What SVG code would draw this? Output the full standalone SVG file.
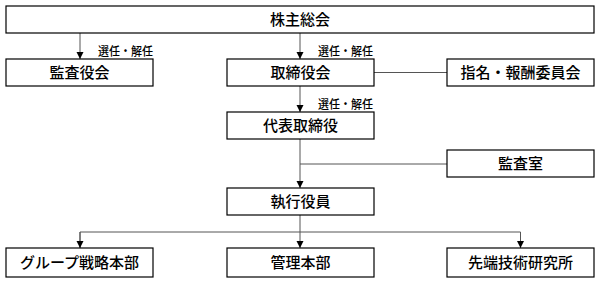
<svg xmlns="http://www.w3.org/2000/svg" width="600" height="283" viewBox="0 0 600 283">
<defs>
<style>
.box{fill:#fff;stroke:#000;stroke-width:1.2}
.t{font-family:"Noto Sans CJK JP","Noto Sans CJK SC",sans-serif;font-size:15px;font-weight:500;fill:#000;text-anchor:middle}
.l{font-family:"Noto Sans CJK JP","Noto Sans CJK SC",sans-serif;font-size:12px;font-weight:500;fill:#000}
.c{fill:none;stroke:#555;stroke-width:1}
</style>
<marker id="ah" markerWidth="8" markerHeight="8" refX="7" refY="4" orient="auto" markerUnits="userSpaceOnUse">
<path d="M0,0.5 L7,4 L0,7.5 Z" fill="#000"/>
</marker>
</defs>
<g id="connectors">
<path class="c" d="M80,33 V59" marker-end="url(#ah)"/>
<path class="c" d="M300,33 V59" marker-end="url(#ah)"/>
<path class="c" d="M374,72.5 H447"/>
<path class="c" d="M300,86 V112" marker-end="url(#ah)"/>
<path class="c" d="M300,139 V188" marker-end="url(#ah)"/>
<path class="c" d="M300,164 H447"/>
<path class="c" d="M300,215 V248" marker-end="url(#ah)"/>
<path class="c" d="M80,248 V232 H520.5 V248" marker-end="url(#ah)"/>
<path class="c" d="M80,232 V248" marker-end="url(#ah)"/>
<text class="l" x="98" y="56" textLength="55" lengthAdjust="spacingAndGlyphs">選任・解任</text>
<text class="l" x="318" y="56" textLength="55" lengthAdjust="spacingAndGlyphs">選任・解任</text>
<text class="l" x="318" y="109" textLength="55" lengthAdjust="spacingAndGlyphs">選任・解任</text>
</g>
<g id="agm"><rect class="box" x="6" y="6" width="588" height="27"/><text class="t" x="300" y="25">株主総会</text></g>
<g id="audit-board"><rect class="box" x="6" y="59" width="147" height="27"/><text class="t" x="79.5" y="78">監査役会</text></g>
<g id="board"><rect class="box" x="227" y="59" width="147" height="27"/><text class="t" x="300.5" y="78">取締役会</text></g>
<g id="committee"><rect class="box" x="447" y="59" width="147" height="27"/><text class="t" x="520.5" y="78">指名・報酬委員会</text></g>
<g id="ceo"><rect class="box" x="227" y="112" width="147" height="27"/><text class="t" x="300.5" y="131">代表取締役</text></g>
<g id="internal-audit"><rect class="box" x="447" y="150" width="147" height="27"/><text class="t" x="520.5" y="169">監査室</text></g>
<g id="officers"><rect class="box" x="227" y="188" width="147" height="27"/><text class="t" x="300.5" y="207">執行役員</text></g>
<g id="group-strategy"><rect class="box" x="6" y="248" width="147" height="29"/><text class="t" x="79.5" y="268">グループ戦略本部</text></g>
<g id="admin"><rect class="box" x="227" y="248" width="147" height="29"/><text class="t" x="300.5" y="268">管理本部</text></g>
<g id="research"><rect class="box" x="447" y="248" width="147" height="29"/><text class="t" x="520.5" y="268">先端技術研究所</text></g>
</svg>
